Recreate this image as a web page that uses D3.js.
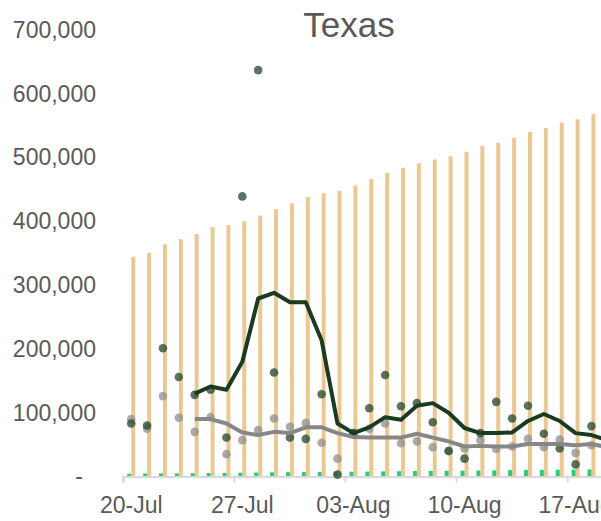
<!DOCTYPE html>
<html>
<head>
<meta charset="utf-8">
<script src="https://cdn.jsdelivr.net/npm/d3@7"></script>
<style>
	body { margin: 0; background: #fff; }
	svg { display: block; font-family: 'Liberation Sans', Arial, sans-serif; }
	.axis text { fill: #595959; font-size: 23px; }
</style>
</head>
<body>
<svg id="svg" width="601" height="521"></svg>
<script>
// days shown (last one falls just off the right edge)
const dates = ['2020-07-20', '2020-07-21', '2020-07-22', '2020-07-23', '2020-07-24', '2020-07-25', '2020-07-26',
	'2020-07-27', '2020-07-28', '2020-07-29', '2020-07-30', '2020-07-31', '2020-08-01', '2020-08-02',
	'2020-08-03', '2020-08-04', '2020-08-05', '2020-08-06', '2020-08-07', '2020-08-08', '2020-08-09',
	'2020-08-10', '2020-08-11', '2020-08-12', '2020-08-13', '2020-08-14', '2020-08-15', '2020-08-16',
	'2020-08-17', '2020-08-18', '2020-08-19'];

// cumulative cases (orange bars)
const cases = [344000, 351000, 364000, 372000, 380000, 391000, 394000, 400000, 409000, 419000, 428000,
	438000, 444000, 448000, 456000, 466000, 476000, 484000, 491000, 497000, 502000, 509000, 518000,
	523000, 531000, 540000, 546000, 555000, 560000, 568000, 575000];

// cumulative deaths (green bars)
const deaths = [4500, 4700, 4900, 5000, 5200, 5400, 5500, 5900, 6200, 6500, 6800, 7000, 7300, 7400, 7500,
	7700, 8000, 8300, 8600, 8800, 9000, 9100, 9400, 9700, 10000, 10300, 10500, 10600, 10800, 11000, 11200];

// daily values (dark dots) and their average (dark line)
const dailyA = [83000, 80000, 201000, 156000, 128000, 136000, 61000, 439000, 637000, 163000, 61000, 59000,
	129000, 3000, 68000, 107000, 159000, 110000, 115000, 85000, 40000, 28000, 68000, 117000, 91000, 111000,
	67000, 44000, 19000, 79000, 60000];
const avgA = [null, null, null, null, 130000, 141000, 136000, 180000, 279000, 288000, 273000, 273000,
	213000, 83000, 68000, 77000, 93000, 89000, 111000, 115000, 100000, 76000, 68000, 68000, 69000, 87000,
	98000, 87000, 68000, 65000, 57000];

// daily values (grey dots) and their average (grey line)
const dailyB = [90000, 75000, 126000, 92000, 70000, 93000, 35000, 57000, 73000, 91000, 78000, 84000, 53000,
	28000, 68000, 75000, 83000, 52000, 55000, 46000, 40000, 44000, 57000, 43000, 47000, 59000, 46000,
	58000, 37000, 49000, 48000];
const avgB = [null, null, null, null, 90000, 90000, 83000, 69000, 65000, 70000, 68000, 77000, 77000,
	68000, 62000, 61000, 61000, 61000, 67000, 61000, 55000, 47000, 48000, 47000, 47000, 51000, 51000,
	51000, 49000, 51000, 46000];

const yTicks = [0, 100000, 200000, 300000, 400000, 500000, 600000, 700000];
const xTickDates = ['2020-07-20', '2020-07-27', '2020-08-03', '2020-08-10', '2020-08-17'];

const Chart = (function () {
	const parse = d3.timeParse('%Y-%m-%d');
	const days = dates.map(parse);
	const rows = days.map((d, i) => ({
		day: d, cases: cases[i], deaths: deaths[i],
		a: dailyA[i], avgA: avgA[i], b: dailyB[i], avgB: avgB[i]
	}));

	const svg = d3.select('#svg');
	const left = 123.3, step = 15.87, bottom = 476.5;

	const x = d3.scaleBand()
		.domain(days)
		.range([left, left + step * days.length])
		.paddingInner(0.5)
		.paddingOuter(0.25);
	const xSub = d3.scaleBand()
		.domain(['deaths', 'cases'])
		.range([0, x.bandwidth()]);
	const y = d3.scaleLinear()
		.domain([0, 700000])
		.range([bottom, bottom - 446.6]);
	const cx = d => x(d) + x.bandwidth() / 2;

	// title
	svg.append('text')
		.attr('x', 349)
		.attr('y', 37)
		.attr('text-anchor', 'middle')
		.style('font-size', '35px')
		.style('fill', '#595959')
		.text('Texas');

	// y axis, labels only
	const yAxis = svg.append('g')
		.attr('class', 'y axis')
		.attr('transform', 'translate(96, 0)')
		.call(d3.axisLeft(y)
			.tickValues(yTicks)
			.tickSize(0)
			.tickPadding(0)
			.tickFormat(d => d === 0 ? '-' : d3.format(',')(d)));
	yAxis.select('.domain').remove();
	yAxis.selectAll('.tick').filter(d => d === 0).select('text').attr('x', -13);

	// bars
	svg.append('g').selectAll('rect')
		.data(rows)
		.enter().append('rect')
		.attr('x', d => x(d.day) + xSub('cases'))
		.attr('width', xSub.bandwidth())
		.attr('y', d => y(d.cases))
		.attr('height', d => bottom - y(d.cases))
		.style('fill', '#ebc892');

	svg.append('g').selectAll('rect')
		.data(rows)
		.enter().append('rect')
		.attr('x', d => x(d.day) + xSub('deaths'))
		.attr('width', xSub.bandwidth())
		.attr('y', d => y(d.deaths))
		.attr('height', d => bottom - y(d.deaths))
		.style('fill', '#2ecc71');

	// x axis: ticks sit on week boundaries, labels on the day
	const xAxis = svg.append('g')
		.attr('class', 'x axis')
		.attr('transform', `translate(0, ${bottom})`)
		.call(d3.axisBottom(x)
			.tickValues(xTickDates.map(parse))
			.tickSizeOuter(0)
			.tickSize(6)
			.tickPadding(14)
			.tickFormat(d3.timeFormat('%d-%b')));
	xAxis.select('.domain').style('stroke', '#d9d9d9').style('stroke-width', 2);
	xAxis.selectAll('.tick line')
		.attr('x1', -step / 2).attr('x2', -step / 2)
		.style('stroke', '#d9d9d9').style('stroke-width', 2);

	// dots
	svg.append('g').selectAll('circle')
		.data(rows.filter(d => d.b != null))
		.enter().append('circle')
		.attr('cx', d => cx(d.day))
		.attr('cy', d => y(d.b))
		.attr('r', 4.3)
		.style('fill', '#8f8f8f')
		.style('opacity', 0.75);

	svg.append('g').selectAll('circle')
		.data(rows.filter(d => d.a != null))
		.enter().append('circle')
		.attr('cx', d => cx(d.day))
		.attr('cy', d => y(d.a))
		.attr('r', 4.3)
		.style('fill', '#2b4a33')
		.style('opacity', 0.78);

	// average lines
	const line = key => d3.line()
		.defined(d => d[key] != null)
		.x(d => cx(d.day))
		.y(d => y(d[key]));

	svg.append('path')
		.datum(rows)
		.attr('d', line('avgB'))
		.style('fill', 'none')
		.style('stroke', '#878787')
		.style('stroke-width', 4)
		.style('stroke-linejoin', 'round');

	svg.append('path')
		.datum(rows)
		.attr('d', line('avgA'))
		.style('fill', 'none')
		.style('stroke', '#1a3a22')
		.style('stroke-width', 4)
		.style('stroke-linejoin', 'round');
})();
</script>
</body>
</html>
